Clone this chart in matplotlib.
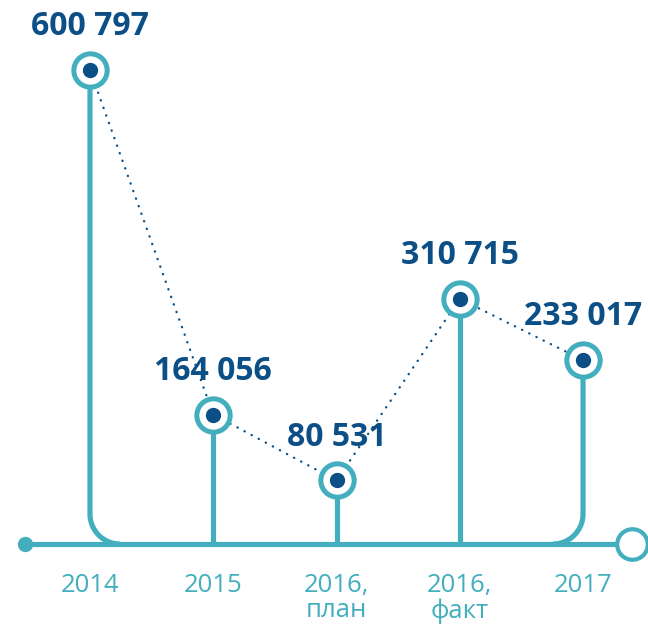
import numpy as np
import matplotlib.pyplot as plt

# Values shown on the chart
categories = ['2014', '2015', '2016,\nплан', '2016,\nфакт', '2017']
values = [600797, 164056, 80531, 310715, 233017]
value_labels = ['600 797', '164 056', '80 531', '310 715', '233 017']

TEAL = '#42AEBE'
DARK = '#0B4F86'

plt.rcParams['font.family'] = ['Open Sans', 'DejaVu Sans']

fig = plt.figure(figsize=(6.48, 6.30), dpi=100)
ax = fig.add_axes([0, 0, 1, 1])
ax.set_xlim(-0.730, 4.527)
ax.set_ylim(-109000, 689500)
ax.axis('off')

x = np.arange(len(values))

# pixel sizes -> data units
fig.canvas.draw()
ppx = ax.transData.transform((1, 0))[0] - ax.transData.transform((0, 0))[0]
ppy = ax.transData.transform((0, 1))[1] - ax.transData.transform((0, 0))[1]
rx = 30 / ppx
ry = 30 / ppy

lw = 3.7
# baseline
x_start = x[0] - 65 / ppx
x_end = x[-1] + 49 / ppx
ax.plot([x_start, x_end], [0, 0], color=TEAL, lw=lw, solid_capstyle='butt', zorder=1)
ax.plot([x_start], [0], 'o', color=TEAL, ms=10, zorder=1)
ax.plot([x_end], [0], 'o', mfc='white', mec=TEAL, mew=3.0, ms=22, zorder=3)

# stems
t = np.linspace(np.pi, 1.5 * np.pi, 30)
for i, (xi, v) in enumerate(zip(x, values)):
    if i == 0:
        xs = np.r_[xi, xi, xi + rx + rx * np.cos(t)]
        ys = np.r_[v, ry, ry + ry * np.sin(t)]
    elif i == len(values) - 1:
        t2 = np.linspace(0, -0.5 * np.pi, 30)
        xs = np.r_[xi, xi, xi - rx + rx * np.cos(t2)]
        ys = np.r_[v, ry, ry + ry * np.sin(t2)]
    else:
        xs = [xi, xi]
        ys = [v, 0]
    ax.plot(xs, ys, color=TEAL, lw=lw, solid_capstyle='butt',
            solid_joinstyle='round', zorder=1)

# dotted connecting line
ax.plot(x, values, color=DARK, lw=1.7, linestyle=(0, (0.1, 3.3)),
        dash_capstyle='round', zorder=2)

# markers
ax.plot(x, values, 'o', mfc='white', mec=TEAL, mew=3.6, ms=24, zorder=3)
ax.plot(x, values, 'o', color=DARK, ms=10, zorder=4)

# value labels
for xi, v, lab in zip(x, values, value_labels):
    ax.annotate(lab, (xi, v), xytext=(0, 25), textcoords='offset points',
                ha='center', va='baseline', fontsize=23, fontweight='bold',
                color=DARK, zorder=5)

# category labels
for xi, cat in zip(x, categories):
    ax.annotate(cat, (xi, 0), xytext=(0, -21), textcoords='offset points',
                ha='center', va='top', fontsize=18.5, color=TEAL,
                linespacing=1.0, multialignment='center')

plt.savefig('out.png', dpi=100)
